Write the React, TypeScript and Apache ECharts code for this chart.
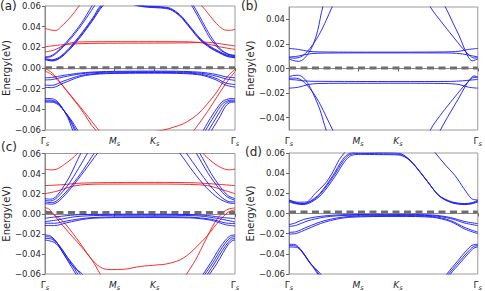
import React, { useEffect, useRef } from 'react';
import * as echarts from 'echarts';

type Band = number[][];

const FONT = 'DejaVu Sans';
const TXT = '#262626';
const RED = '#f01818';
const BLUE = '#1515f5';

// k-path ticks (Γs - Ms - Ks - Γs)
const kTicks = [0, 0.5774, 0.9107, 1.5774];
const kNames = ['Γ', 'M', 'K', 'Γ'];
const yTicks6 = [-0.06, -0.04, -0.02, 0, 0.02, 0.04, 0.06];
const yTicks4 = [-0.04, -0.02, 0, 0.02, 0.04];
const yRanges = [[-0.06, 0.06], [-0.05, 0.05], [-0.06, 0.06], [-0.06, 0.06]];
const fermiLevels = [0.0003, 0.0005, 0.0013, 0.0015];
const panelTags = ['(a)', '(b)', '(c)', '(d)'];

// ---------- panel (a) ----------
const aRedC1: Band = [[0,0.0384],[0.05,0.0368],[0.09,0.0362],[0.13,0.0395],[0.215,0.0497],[0.283,0.060],[0.4,0.078],[0.7,0.092],[1.1,0.082],[1.302,0.060],[1.398,0.0464],[1.45,0.0400],[1.50,0.0366],[1.54,0.0365],[1.5774,0.0374]];
const aRedC2: Band = [[0,0.0155],[0.08,0.0175],[0.15,0.0215],[0.22,0.0245],[0.35,0.0254],[0.9107,0.0255],[1.2,0.0253],[1.32,0.0240],[1.45,0.0205],[1.5774,0.0180]];
const aRedC3: Band = [[0,0.0205],[0.12,0.0222],[0.3,0.0236],[0.6,0.0240],[0.9107,0.0241],[1.2,0.0244],[1.33,0.0250],[1.45,0.0235],[1.5774,0.0213]];
const aRedV1: Band = [[0,-0.0005],[0.05,-0.0038],[0.1,-0.0098],[0.17,-0.0205],[0.3,-0.0400],[0.42,-0.060],[0.5774,-0.074],[0.75,-0.068],[0.85,-0.0628],[0.985,-0.0600],[1.07,-0.0572],[1.15,-0.0539],[1.22,-0.0490],[1.288,-0.0426],[1.36,-0.0330],[1.426,-0.0232],[1.5,-0.0100],[1.5774,-0.0013]];
const aRedV2: Band = [[0,-0.0030],[0.05,-0.0058],[0.1,-0.0110],[0.2,-0.0245],[0.33,-0.0430],[0.445,-0.060],[0.6,-0.082],[0.9107,-0.095],[1.1,-0.080],[1.239,-0.060],[1.35,-0.0420],[1.454,-0.0232],[1.52,-0.0120],[1.5774,-0.0036]];

const aBlueT1: Band = [[0,0.0108],[0.05,0.0118],[0.1,0.0158],[0.2,0.0280],[0.3,0.0430],[0.39,0.060],[0.5,0.080],[0.9107,0.092],[1.1,0.080],[1.22,0.060],[1.316,0.0400],[1.371,0.0287],[1.45,0.0180],[1.52,0.0132],[1.5774,0.0125]];
const aBlueT2: Band = [[0,0.0100],[0.05,0.0110],[0.1,0.0148],[0.2,0.0265],[0.3,0.0410],[0.41,0.060],[0.52,0.080],[0.9107,0.090],[1.12,0.080],[1.235,0.060],[1.33,0.0400],[1.385,0.0290],[1.46,0.0180],[1.53,0.0130],[1.5774,0.0118]];
const aBlueP1: Band = [[0,0.0092],[0.06,0.0080],[0.12,0.0105],[0.2,0.0190],[0.3,0.0330],[0.4,0.0490],[0.46,0.060],[0.5774,0.0690],[0.75,0.0618],[0.85,0.0600],[0.958,0.0593],[1.041,0.0578],[1.123,0.0513],[1.206,0.0400],[1.288,0.0287],[1.37,0.0210],[1.44,0.0165],[1.51,0.0125],[1.5774,0.0110]];
const aBlueP2: Band = [[0,0.0086],[0.06,0.0073],[0.12,0.0097],[0.2,0.0180],[0.3,0.0318],[0.4,0.0478],[0.47,0.060],[0.5774,0.0680],[0.75,0.0612],[0.85,0.0594],[0.958,0.0587],[1.041,0.0571],[1.123,0.0505],[1.206,0.0392],[1.288,0.0279],[1.37,0.0202],[1.44,0.0157],[1.51,0.0118],[1.5774,0.0104]];
const aBlueP3: Band = [[0,0.0080],[0.06,0.0068],[0.12,0.0091],[0.2,0.0172],[0.3,0.0308],[0.4,0.0466],[0.48,0.060],[0.5774,0.0672],[0.75,0.0606],[0.85,0.0588],[0.958,0.0581],[1.041,0.0565],[1.123,0.0498],[1.206,0.0384],[1.288,0.0270],[1.37,0.0195],[1.44,0.0150],[1.51,0.0112],[1.5774,0.0098]];
const aBlueV1: Band = [[0,-0.0095],[0.06,-0.0091],[0.15,-0.0072],[0.3,-0.0048],[0.45,-0.0036],[0.7,-0.0031],[0.9107,-0.0030],[1.15,-0.0033],[1.3,-0.0042],[1.42,-0.0062],[1.5,-0.0085],[1.5774,-0.0095]];
const aBlueV2: Band = [[0,-0.0115],[0.06,-0.0112],[0.15,-0.0088],[0.3,-0.0056],[0.45,-0.0043],[0.7,-0.0038],[0.9107,-0.0037],[1.15,-0.0040],[1.3,-0.0052],[1.42,-0.0078],[1.5,-0.0105],[1.5774,-0.0120]];
const aBlueV3: Band = [[0,-0.0165],[0.06,-0.0168],[0.15,-0.0128],[0.3,-0.0072],[0.45,-0.0052],[0.7,-0.0045],[0.9107,-0.0044],[1.15,-0.0047],[1.3,-0.0062],[1.42,-0.0100],[1.5,-0.0145],[1.5774,-0.0160]];
const aBlueV4: Band = [[0,-0.0188],[0.06,-0.0190],[0.15,-0.0148],[0.3,-0.0082],[0.45,-0.0058],[0.7,-0.0051],[0.9107,-0.0050],[1.15,-0.0054],[1.3,-0.0070],[1.42,-0.0115],[1.5,-0.0165],[1.5774,-0.0185]];
const aBlueL1: Band = [[0,-0.0295],[0.06,-0.0297],[0.1,-0.0320],[0.14,-0.0380],[0.19,-0.0480],[0.23,-0.060],[0.35,-0.085],[0.9107,-0.12],[1.2,-0.085],[1.316,-0.060],[1.39,-0.0455],[1.468,-0.0330],[1.52,-0.0300],[1.5774,-0.0295]];
const aBlueL2: Band = [[0,-0.0310],[0.06,-0.0312],[0.11,-0.0340],[0.15,-0.0400],[0.2,-0.0490],[0.245,-0.060],[0.37,-0.085],[0.9107,-0.12],[1.22,-0.085],[1.335,-0.060],[1.405,-0.0465],[1.475,-0.0345],[1.53,-0.0313],[1.5774,-0.0310]];
const aBlueL3: Band = [[0,-0.0320],[0.065,-0.0323],[0.115,-0.0352],[0.16,-0.0415],[0.21,-0.0500],[0.255,-0.060],[0.38,-0.085],[0.9107,-0.12],[1.24,-0.085],[1.36,-0.060],[1.425,-0.0475],[1.49,-0.0355],[1.535,-0.0323],[1.5774,-0.0320]];
const aBlueL4: Band = [[0,-0.0330],[0.07,-0.0333],[0.12,-0.0365],[0.17,-0.0430],[0.225,-0.0515],[0.27,-0.060],[0.40,-0.085],[0.9107,-0.12],[1.26,-0.085],[1.385,-0.060],[1.445,-0.0485],[1.5,-0.0370],[1.54,-0.0333],[1.5774,-0.0330]];

// ---------- panel (b) ----------
const bBlueC1: Band = [[0,0.0078],[0.04,0.0064],[0.08,0.0058],[0.12,0.0075],[0.16,0.0120],[0.2,0.0190],[0.24,0.0310],[0.282,0.050],[0.35,0.070],[0.5774,0.090],[0.9107,0.095],[1.15,0.075],[1.306,0.050],[1.37,0.0370],[1.42,0.0270],[1.46,0.0175],[1.497,0.0095],[1.53,0.0062],[1.5774,0.0078]];
const bBlueC2: Band = [[0,0.0088],[0.05,0.0084],[0.1,0.0095],[0.15,0.0135],[0.2,0.0195],[0.26,0.0290],[0.31,0.0390],[0.36,0.050],[0.45,0.068],[0.9107,0.090],[1.08,0.070],[1.181,0.050],[1.28,0.0370],[1.37,0.0260],[1.45,0.0165],[1.51,0.0105],[1.545,0.0085],[1.5774,0.0088]];
const bBlueF1: Band = [[0,0.0163],[0.08,0.0155],[0.16,0.0140],[0.25,0.0135],[0.5774,0.0133],[0.9107,0.0133],[1.3,0.0135],[1.42,0.0140],[1.5,0.0155],[1.5774,0.0163]];
const bBlueF2: Band = [[0,0.0094],[0.06,0.0098],[0.12,0.0110],[0.2,0.0122],[0.35,0.0126],[0.9107,0.0127],[1.35,0.0126],[1.45,0.0118],[1.52,0.0105],[1.5774,0.0094]];
const bBlueVF1: Band = [[0,-0.0160],[0.08,-0.0152],[0.16,-0.0130],[0.25,-0.0122],[0.5774,-0.0120],[0.9107,-0.0120],[1.3,-0.0122],[1.42,-0.0130],[1.5,-0.0152],[1.5774,-0.0160]];
const bBlueVF2: Band = [[0,-0.0089],[0.06,-0.0093],[0.12,-0.0100],[0.2,-0.0104],[0.9107,-0.0106],[1.35,-0.0105],[1.45,-0.0100],[1.52,-0.0094],[1.5774,-0.0089]];
const bBlueV1: Band = [[0,-0.0068],[0.04,-0.0056],[0.08,-0.0055],[0.12,-0.0075],[0.16,-0.0125],[0.2,-0.0200],[0.26,-0.0340],[0.31,-0.050],[0.4,-0.072],[0.9107,-0.095],[1.1,-0.072],[1.181,-0.050],[1.28,-0.0360],[1.37,-0.0250],[1.45,-0.0155],[1.51,-0.0095],[1.545,-0.0072],[1.5774,-0.0075]];
const bBlueV2: Band = [[0,-0.0080],[0.05,-0.0078],[0.1,-0.0092],[0.15,-0.0135],[0.2,-0.0195],[0.26,-0.0290],[0.31,-0.0390],[0.365,-0.050],[0.45,-0.068],[0.9107,-0.095],[1.15,-0.072],[1.265,-0.050],[1.34,-0.0370],[1.41,-0.0255],[1.47,-0.0150],[1.51,-0.0090],[1.545,-0.0060],[1.5774,-0.0068]];

// ---------- panel (c) ----------
const cRedC1: Band = [[0,0.0444],[0.05,0.0437],[0.1,0.0445],[0.16,0.0490],[0.22,0.0545],[0.269,0.060],[0.4,0.080],[0.9107,0.100],[1.2,0.080],[1.313,0.060],[1.37,0.0535],[1.43,0.0480],[1.49,0.0445],[1.53,0.0437],[1.5774,0.0444]];
const cRedC2: Band = [[0,0.0200],[0.1,0.0225],[0.2,0.0265],[0.3,0.0287],[0.45,0.0295],[0.9107,0.0296],[1.2,0.0292],[1.35,0.0280],[1.47,0.0240],[1.5774,0.0200]];
const cRedC3: Band = [[0,0.0280],[0.15,0.0290],[0.3,0.0305],[0.6,0.0311],[0.9107,0.0312],[1.25,0.0308],[1.45,0.0292],[1.5774,0.0280]];
const cRedV1: Band = [[0,0.0060],[0.03,0.0050],[0.06,0.0015],[0.104,-0.0055],[0.2,-0.0190],[0.3,-0.0325],[0.393,-0.0465],[0.456,-0.0595],[0.6,-0.088],[0.9107,-0.10],[1.05,-0.085],[1.176,-0.060],[1.25,-0.0460],[1.33,-0.0270],[1.41,-0.0085],[1.47,0.0005],[1.52,0.0045],[1.5774,0.0058]];
const cRedV2: Band = [[0,0.0030],[0.05,0.0010],[0.1,-0.0030],[0.146,-0.0070],[0.26,-0.0240],[0.379,-0.0440],[0.44,-0.0515],[0.489,-0.0548],[0.55,-0.0556],[0.654,-0.0553],[0.791,-0.0525],[0.929,-0.0510],[1.0,-0.0502],[1.094,-0.0473],[1.15,-0.0440],[1.204,-0.0391],[1.27,-0.0315],[1.341,-0.0228],[1.40,-0.0140],[1.451,-0.0065],[1.52,0.0015],[1.5774,0.0040]];
const cBlueC1: Band = [[0,0.0150],[0.05,0.0145],[0.1,0.0180],[0.2,0.0360],[0.297,0.060],[0.4,0.080],[0.9107,0.100],[1.18,0.080],[1.286,0.060],[1.38,0.0400],[1.46,0.0260],[1.52,0.0180],[1.5774,0.0150]];
const cBlueC2: Band = [[0,0.0134],[0.05,0.0128],[0.1,0.0160],[0.2,0.0300],[0.352,0.060],[0.45,0.080],[0.9107,0.100],[1.15,0.080],[1.258,0.060],[1.35,0.0410],[1.44,0.0260],[1.51,0.0170],[1.5774,0.0134]];
const cBlueC3: Band = [[0,0.0118],[0.06,0.0110],[0.12,0.0150],[0.22,0.0280],[0.32,0.0440],[0.407,0.060],[0.5,0.075],[0.9107,0.095],[1.06,0.078],[1.176,0.060],[1.27,0.0440],[1.37,0.0280],[1.46,0.0170],[1.53,0.0120],[1.5774,0.0118]];
const cBlueC4: Band = [[0,0.0101],[0.06,0.0095],[0.12,0.0130],[0.22,0.0260],[0.33,0.0430],[0.434,0.060],[0.55,0.078],[0.9107,0.090],[1.0,0.078],[1.121,0.060],[1.23,0.0420],[1.34,0.0260],[1.44,0.0155],[1.52,0.0110],[1.5774,0.0101]];
const cBlueV1: Band = [[0,-0.0045],[0.1,-0.0030],[0.25,-0.0012],[0.45,-0.0005],[0.9107,-0.0004],[1.2,-0.0008],[1.35,-0.0018],[1.48,-0.0038],[1.5774,-0.0048]];
const cBlueV2: Band = [[0,-0.0078],[0.1,-0.0062],[0.25,-0.0030],[0.45,-0.0017],[0.9107,-0.0015],[1.25,-0.0020],[1.4,-0.0040],[1.5774,-0.0082]];
const cBlueV3: Band = [[0,-0.0094],[0.08,-0.0095],[0.18,-0.0072],[0.35,-0.0042],[0.55,-0.0032],[0.9107,-0.0030],[1.2,-0.0034],[1.38,-0.0055],[1.5,-0.0092],[1.5774,-0.0098]];
const cBlueV4: Band = [[0,-0.0117],[0.08,-0.0118],[0.18,-0.0090],[0.35,-0.0050],[0.55,-0.0039],[0.9107,-0.0038],[1.2,-0.0041],[1.38,-0.0065],[1.5,-0.0110],[1.5774,-0.0122]];
const cBlueL1: Band = [[0,-0.0212],[0.04,-0.0218],[0.09,-0.0270],[0.132,-0.0355],[0.2,-0.0490],[0.256,-0.060],[0.4,-0.090],[0.9107,-0.12],[1.15,-0.090],[1.314,-0.060],[1.38,-0.0480],[1.45,-0.0340],[1.5,-0.0260],[1.54,-0.0218],[1.5774,-0.0212]];
const cBlueL2: Band = [[0,-0.0228],[0.05,-0.0235],[0.1,-0.0290],[0.15,-0.0370],[0.22,-0.0500],[0.272,-0.060],[0.42,-0.090],[0.9107,-0.12],[1.17,-0.090],[1.33,-0.060],[1.395,-0.0485],[1.46,-0.0355],[1.51,-0.0272],[1.545,-0.0235],[1.5774,-0.0228]];
const cBlueL3: Band = [[0,-0.0245],[0.06,-0.0255],[0.12,-0.0320],[0.187,-0.0435],[0.25,-0.0530],[0.292,-0.060],[0.45,-0.090],[0.9107,-0.12],[1.19,-0.090],[1.35,-0.060],[1.41,-0.0490],[1.47,-0.0370],[1.52,-0.0285],[1.55,-0.0252],[1.5774,-0.0245]];
const cBlueL4: Band = [[0,-0.0261],[0.077,-0.0285],[0.13,-0.0350],[0.187,-0.0456],[0.25,-0.0545],[0.31,-0.060],[0.47,-0.090],[0.9107,-0.12],[1.21,-0.090],[1.368,-0.060],[1.425,-0.0500],[1.48,-0.0385],[1.525,-0.0300],[1.555,-0.0268],[1.5774,-0.0261]];

// ---------- panel (d) ----------
const dBlueP1: Band = [[0,0.0130],[0.06,0.0108],[0.116,0.0098],[0.18,0.0125],[0.255,0.0195],[0.365,0.0373],[0.448,0.0535],[0.504,0.0595],[0.6,0.0610],[0.75,0.0605],[0.919,0.0598],[0.97,0.0570],[1.029,0.0508],[1.14,0.0345],[1.25,0.0182],[1.36,0.0116],[1.47,0.0098],[1.53,0.0108],[1.5774,0.0130]];
const dBlueP2: Band = [[0,0.0122],[0.06,0.0101],[0.116,0.0093],[0.18,0.0118],[0.26,0.0190],[0.37,0.0365],[0.455,0.0525],[0.51,0.0585],[0.6,0.0596],[0.75,0.0593],[0.919,0.0588],[0.975,0.0560],[1.035,0.0498],[1.145,0.0336],[1.255,0.0175],[1.36,0.0110],[1.47,0.0093],[1.53,0.0102],[1.5774,0.0122]];
const dBlueP3: Band = [[0,0.0114],[0.06,0.0096],[0.12,0.0089],[0.19,0.0115],[0.27,0.0186],[0.38,0.0358],[0.465,0.0515],[0.52,0.0575],[0.6,0.0586],[0.75,0.0584],[0.919,0.0580],[0.98,0.0552],[1.04,0.0490],[1.15,0.0328],[1.26,0.0168],[1.365,0.0105],[1.47,0.0089],[1.53,0.0097],[1.5774,0.0114]];
const dBlueS: Band = [[0,0.0135],[0.07,0.0112],[0.144,0.0114],[0.22,0.0200],[0.31,0.0308],[0.37,0.0420],[0.42,0.0535],[0.462,0.060],[0.55,0.075],[0.9107,0.085],[1.1,0.078],[1.223,0.060],[1.3,0.0490],[1.389,0.0373],[1.46,0.0250],[1.527,0.0146],[1.5774,0.0135]];
const dBlueV1: Band = [[0,-0.0110],[0.05,-0.0095],[0.12,-0.0060],[0.25,-0.0030],[0.45,-0.0012],[0.9107,-0.0009],[1.2,-0.0015],[1.35,-0.0040],[1.47,-0.0080],[1.5774,-0.0100]];
const dBlueV2: Band = [[0,-0.0128],[0.06,-0.0118],[0.15,-0.0075],[0.3,-0.0035],[0.5,-0.0018],[0.9107,-0.0016],[1.2,-0.0022],[1.35,-0.0050],[1.47,-0.0095],[1.5774,-0.0120]];
const dBlueV3: Band = [[0,-0.0187],[0.06,-0.0180],[0.15,-0.0135],[0.3,-0.0070],[0.5,-0.0030],[0.9107,-0.0022],[1.2,-0.0030],[1.35,-0.0070],[1.47,-0.0140],[1.5774,-0.0185]];
const dBlueV4: Band = [[0,-0.0204],[0.06,-0.0198],[0.15,-0.0155],[0.3,-0.0085],[0.5,-0.0038],[0.9107,-0.0029],[1.2,-0.0038],[1.35,-0.0080],[1.47,-0.0155],[1.5774,-0.0200]];
const dBlueL1: Band = [[0,-0.0305],[0.05,-0.0308],[0.1,-0.0360],[0.16,-0.0460],[0.24,-0.060],[0.4,-0.090],[0.9107,-0.12],[1.15,-0.090],[1.32,-0.060],[1.41,-0.0470],[1.48,-0.0370],[1.53,-0.0315],[1.5774,-0.0305]];
const dBlueL2: Band = [[0,-0.0318],[0.06,-0.0323],[0.11,-0.0380],[0.17,-0.0480],[0.25,-0.060],[0.42,-0.090],[0.9107,-0.12],[1.17,-0.090],[1.335,-0.060],[1.42,-0.0480],[1.49,-0.0385],[1.54,-0.0328],[1.5774,-0.0318]];
const dBlueL3: Band = [[0,-0.0332],[0.07,-0.0338],[0.12,-0.0400],[0.18,-0.0500],[0.265,-0.060],[0.44,-0.090],[0.9107,-0.12],[1.19,-0.090],[1.35,-0.060],[1.43,-0.0490],[1.5,-0.0395],[1.545,-0.0342],[1.5774,-0.0332]];

const panelRed: Band[][] = [
  [aRedC1, aRedC2, aRedC3, aRedV1, aRedV2],
  [],
  [cRedC1, cRedC2, cRedC3, cRedV1, cRedV2],
  [],
];
const panelBlue: Band[][] = [
  [aBlueT1, aBlueT2, aBlueP1, aBlueP2, aBlueP3, aBlueV1, aBlueV2, aBlueV3, aBlueV4, aBlueL1, aBlueL2, aBlueL3, aBlueL4],
  [bBlueC1, bBlueC2, bBlueF1, bBlueF2, bBlueVF1, bBlueVF2, bBlueV1, bBlueV2],
  [cBlueC1, cBlueC2, cBlueC3, cBlueC4, cBlueV1, cBlueV2, cBlueV3, cBlueV4, cBlueL1, cBlueL2, cBlueL3, cBlueL4],
  [dBlueP1, dBlueP2, dBlueP3, dBlueS, dBlueV1, dBlueV2, dBlueV3, dBlueV4, dBlueL1, dBlueL2, dBlueL3],
];

const grids = [
  { left: 44, top: 6, width: 191, height: 124 },
  { left: 289, top: 7, width: 190, height: 123 },
  { left: 44, top: 153.5, width: 191, height: 123 },
  { left: 289, top: 153, width: 190, height: 124 },
];
const tagPos = [[0, 0], [241, 0], [1, 141], [245, 146]];

function fmtY(v: number): string {
  const s = Math.abs(v).toFixed(2);
  return v < -1e-9 ? '\u2212' + s : s;
}

function fmtX(v: number): string {
  const i = kTicks.findIndex((t) => Math.abs(t - v) < 1e-6);
  const n = i >= 0 ? kNames[i] : '';
  return n === 'Γ' ? `{g|Γ}{s|s}` : `{i|${n}}{s|s}`;
}

export default function App() {
  const ref = useRef<HTMLDivElement>(null);
  useEffect(() => {
    if (!ref.current) return;
    const chart = echarts.init(ref.current, undefined, { renderer: 'svg' });
    const series: any[] = [];
    const bandSeries = (b: Band, color: string, i: number, w: number) => ({
      type: 'line', xAxisIndex: i, yAxisIndex: i, data: b, showSymbol: false, symbol: 'none',
      smooth: 0.3, silent: true, clip: true,
      lineStyle: { color, width: w },
    });
    for (let i = 0; i < 4; i++) {
      panelRed[i].forEach((b) => series.push(bandSeries(b, RED, i, 0.9)));
      panelBlue[i].forEach((b) => series.push(bandSeries(b, BLUE, i, 0.9)));
      series.push({
        type: 'line', xAxisIndex: i, yAxisIndex: i, showSymbol: false, symbol: 'none', silent: true,
        data: [[kTicks[0], fermiLevels[i]], [kTicks[3], fermiLevels[i]]],
        lineStyle: { color: '#6e6e6e', width: 3, type: [7, 4.5] }, z: 5,
      });
    }
    const rich = {
      g: { fontSize: 9, fontFamily: FONT, color: TXT },
      i: { fontSize: 9, fontFamily: FONT, fontStyle: 'italic', color: TXT },
      s: { fontSize: 6.5, fontFamily: FONT, fontStyle: 'italic', color: TXT, padding: [5, 0, 0, 0] },
    };
    chart.setOption({
      animation: false,
      grid: grids.map((g) => ({ ...g, show: true, borderColor: '#9a9a9a', borderWidth: 1, containLabel: false })),
      xAxis: grids.map((_, i) => ({
        gridIndex: i, type: 'value', min: kTicks[0], max: kTicks[3],
        axisLine: { show: true, lineStyle: { color: '#8a8a8a', width: 1 } },
        axisTick: { show: true, customValues: kTicks, length: 3, lineStyle: { color: '#666' } },
        axisLabel: { customValues: kTicks, formatter: fmtX, rich, margin: 5 },
        splitLine: { show: false },
      })),
      yAxis: grids.map((_, i) => ({
        gridIndex: i, type: 'value', min: yRanges[i][0], max: yRanges[i][1],
        axisLine: { show: true, lineStyle: { color: '#8a8a8a', width: 1 } },
        axisTick: { show: true, customValues: i === 1 ? yTicks4 : yTicks6, length: 3, lineStyle: { color: '#666' } },
        axisLabel: { customValues: i === 1 ? yTicks4 : yTicks6, formatter: fmtY, fontSize: 8.5, fontFamily: FONT, color: TXT, margin: 4 },
        splitLine: { show: false },
        name: 'Energy(eV)', nameLocation: 'middle', nameGap: 31,
        nameTextStyle: { fontSize: 10, fontFamily: FONT, color: TXT },
      })),
      graphic: panelTags.map((t, i) => ({
        type: 'text', x: tagPos[i][0], y: tagPos[i][1],
        style: { text: t, fontSize: 12, fontFamily: FONT, fill: TXT, verticalAlign: 'top' },
      })),
      series,
    });
    return () => chart.dispose();
  }, []);
  return <div ref={ref} style={{ position: 'fixed', left: 0, top: 0, width: 485, height: 291, background: '#fff' }} />;
}
